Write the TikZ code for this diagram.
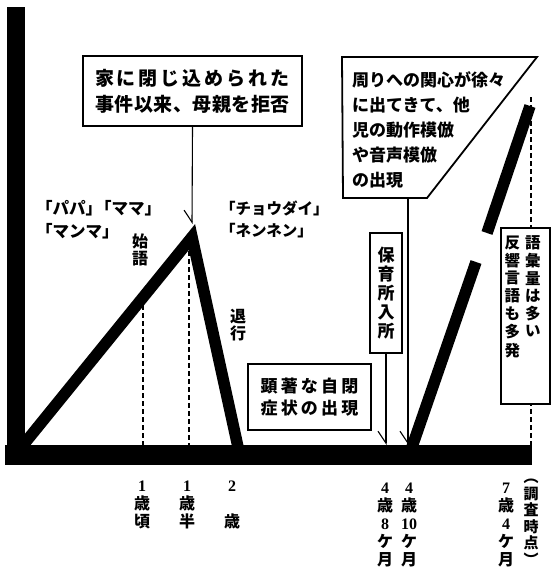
\documentclass[tikz,border=0pt]{standalone}
\usepackage{fontspec}
\usepackage{graphicx}
\setmainfont{Liberation Serif}
\newfontfamily\jp{Noto Sans CJK JP}
\usetikzlibrary{arrows.meta}
\newcommand\J[1]{{\jp\bfseries #1}}
\makeatletter
\newcommand\spreadchars[2]{\hbox to #1{\def\sp@first{1}\@tfor\sp@c:=#2\do{\ifx\sp@first\@empty\hfill\fi\def\sp@first{}\sp@c}}}
\makeatother
\begin{document}
\begin{tikzpicture}[x=1pt,y=-1pt,
  trend/.style={line width=11.5pt, line join=miter, line cap=butt},
  guide/.style={line width=1.3pt, dash pattern=on 5pt off 3pt},
  boxline/.style={draw, line width=1.8pt, fill=white},
  box/.style={boxline, inner sep=0pt},
  lead/.style={line width=1.1pt, -{Straight Barb[harpoon,swap,length=12pt,width=16pt,line width=1.1pt]}},
  jtext/.style={font=\jp\bfseries\fontsize{15.5}{23}\selectfont, inner sep=0pt, align=left},
  vtext/.style={font=\jp\bfseries\fontsize{16}{17}\selectfont, inner sep=0pt, align=center},
  age/.style={font=\bfseries\fontsize{16}{18}\selectfont, inner sep=0pt, align=center, anchor=north}
]
\useasboundingbox (0,0) rectangle (551,578);

% axes
\fill (7,7) rectangle (25,465);
\fill (5,445) rectangle (532,465);

% guide lines
\coordinate (g1t) at (143,297); \coordinate (g1b) at (143,445);
\coordinate (g2t) at (189,251); \coordinate (g2b) at (189,445);
\coordinate (g3t) at (531,97);  \coordinate (g3b) at (531,445);
\draw[guide] (g1t) -- (g1b);
\draw[guide] (g2t) -- (g2b);
\draw[guide] (g3t) -- (g3b);

% trend lines
\coordinate (origin) at (24,444);
\coordinate (peak) at (192,237);
\coordinate (apex) at (192,224);
\coordinate (drop) at (238,447);
\draw[trend] (origin) -- (peak) -- (drop);
\coordinate (r2a) at (412,447);
\coordinate (r2b) at (476,262);
\coordinate (r2c) at (487,233);
\coordinate (r2d) at (530,106);
\draw[trend] (r2a) -- (r2b);
\draw[trend] (r2c) -- (r2d);

% box 1
\node[box, minimum width=219pt, minimum height=70pt, align=center,
      font=\jp\bfseries\fontsize{19}{26}\selectfont] (b1) at (192.5,91)
  {\spreadchars{195pt}{家に閉じ込められた}\\\spreadchars{195pt}{事件以来、母親を拒否}};
\draw[lead] (b1.south) -- (apex);

% box 2 (cut corner)
\draw[boxline] (342,57) -- (537,57) -- (427,198) -- (343,198) -- cycle;
\node[jtext, font=\jp\bfseries\fontsize{17}{25}\selectfont, anchor=north west] (b2t) at (352,71)
  {周りへの関心が徐々\\に出てきて、他\\児の動作模倣\\や音声模倣\\の出現};
\coordinate (b2bot) at (408,198);
\coordinate (b2end) at (408,445);
\draw[lead] (b2bot) -- (b2end);

% box hoikusho
\node[box, minimum width=32pt, minimum height=120pt, align=center,
      font=\jp\bfseries\fontsize{17}{19}\selectfont] (hoiku) at (386,293)
  {保\\育\\所\\入\\所};
\coordinate (hoikuend) at (386,445);
\draw[lead] (hoiku.south) -- (hoikuend);

% box kencho
\node[box, minimum width=123pt, minimum height=66pt, align=center,
      font=\jp\bfseries\fontsize{17}{22}\selectfont] (kencho) at (309.5,397)
  {\spreadchars{98pt}{顕著な自閉}\\\spreadchars{98pt}{症状の出現}};

% box 3
\node[box, minimum width=49pt, minimum height=176pt] (b3) at (525.5,316) {};
\node[anchor=north, inner sep=0pt, font=\jp\bfseries\fontsize{15.5}{16.7}\selectfont] (b3t) at (522.5,235)
  {\begin{tabular}[t]{@{}c@{}}反\\響\\言\\語\\も\\多\\発\end{tabular}\hspace{5pt}%
   \begin{tabular}[t]{@{}c@{}}語\\彙\\量\\は\\多\\い\end{tabular}};

% free labels
\node[jtext, font=\jp\bfseries\fontsize{16.5}{23}\selectfont, anchor=west] (papa) at (36,208) {「パパ」\kern-7pt「ママ」};
\node[jtext, font=\jp\bfseries\fontsize{16.5}{23}\selectfont, anchor=west] (manma) at (36,231) {「マンマ」};
\node[jtext, anchor=west] (choudai) at (220,208) {「チョウダイ」};
\node[jtext, anchor=west] (nennen) at (220,231) {「ネンネン」};
\node[vtext] (shigo) at (140,249.5) {始\\語};
\node[vtext] (taiko) at (238,325) {退\\行};

% age labels
\node[age] (a1) at (142,481) {1\\\J{歳}\\\J{頃}};
\node[age] (a2) at (187,481) {1\\\J{歳}\\\J{半}};
\node[age] (a3) at (232,481) {2\\[18pt]\J{歳}};
\node[age] (a4) at (385,483) {4\\\J{歳}\\8\\\J{ケ}\\\J{月}};
\node[age] (a5) at (409,483) {4\\\J{歳}\\10\\\J{ケ}\\\J{月}};
\node[age] (a6) at (506,483) {7\\\J{歳}\\4\\\J{ケ}\\\J{月}};
\node[age, font=\jp\bfseries\fontsize{15}{16.5}\selectfont] (a7) at (531,479) {︵\\調\\査\\時\\点\\︶};
\end{tikzpicture}
\end{document}
